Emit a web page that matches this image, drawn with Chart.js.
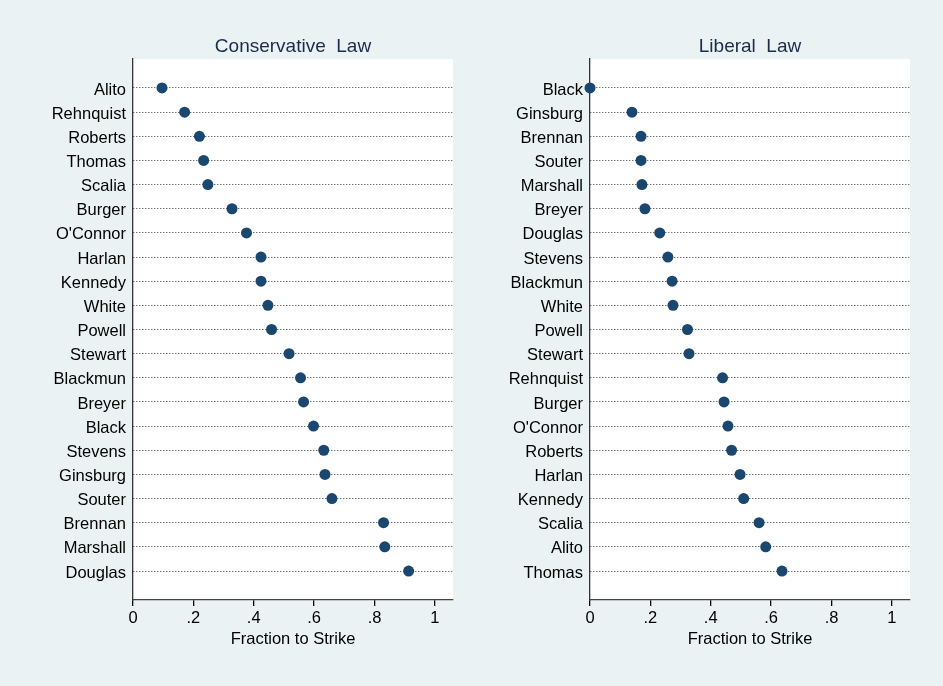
<!DOCTYPE html>
<html>
<head>
<meta charset="utf-8">
<script src="https://cdn.jsdelivr.net/npm/chart.js@4.4.1/dist/chart.umd.min.js"></script>
<style>
  html, body { margin: 0; padding: 0; background: #EAF2F3; width: 943px; height: 686px; overflow: hidden; }
  canvas { position: absolute; top: 0; }
  #c1 { left: 0; }
  #c2 { left: 471px; }
</style>
</head>
<body>
<canvas id="c1" width="471" height="686"></canvas>
<canvas id="c2" width="472" height="686"></canvas>
<script>
// ---- Data ----
const conservativeJustices = ["Alito","Rehnquist","Roberts","Thomas","Scalia","Burger","O'Connor","Harlan","Kennedy","White","Powell","Stewart","Blackmun","Breyer","Black","Stevens","Ginsburg","Souter","Brennan","Marshall","Douglas"];
const conservativeValues = [0.096,0.171,0.220,0.234,0.248,0.328,0.376,0.424,0.424,0.447,0.459,0.517,0.555,0.565,0.598,0.632,0.636,0.659,0.830,0.834,0.913];

const liberalJustices = ["Black","Ginsburg","Brennan","Souter","Marshall","Breyer","Douglas","Stevens","Blackmun","White","Powell","Stewart","Rehnquist","Burger","O'Connor","Roberts","Harlan","Kennedy","Scalia","Alito","Thomas"];
const liberalValues = [0.000,0.139,0.169,0.169,0.172,0.182,0.231,0.258,0.272,0.275,0.323,0.328,0.439,0.444,0.457,0.469,0.497,0.509,0.560,0.582,0.636];

const xTicks = [0, 0.2, 0.4, 0.6, 0.8, 1];
const panelTitles = ["Conservative  Law", "Liberal  Law"];
const xAxisTitle = "Fraction to Strike";

// ---- Rendering ----
const FONT = "'Liberation Sans', Arial, Helvetica, sans-serif";

const plotBg = {
  id: 'plotBg',
  beforeDraw(chart) {
    const a = chart.chartArea, ctx = chart.ctx;
    ctx.save();
    ctx.fillStyle = '#ffffff';
    ctx.fillRect(a.left, a.top, a.right - a.left, a.bottom - a.top);
    ctx.restore();
  }
};

function fmtTick(v) {
  if (v === 0) return '0';
  if (v === 1) return '1';
  return String(Math.round(v * 10) / 10).replace(/^0/, '');
}

function makeChart(id, names, values, title, yWidth, padRight) {
  new Chart(document.getElementById(id), {
    type: 'scatter',
    data: {
      datasets: [{
        data: names.map((n, i) => ({ x: values[i], y: i })),
        backgroundColor: '#1a476f',
        borderColor: '#1a476f',
        borderWidth: 0,
        pointRadius: 5.5,
        pointHoverRadius: 5.5,
        clip: false
      }]
    },
    options: {
      responsive: false,
      animation: false,
      devicePixelRatio: 1,
      layout: { padding: { left: 0, right: padRight, top: 0, bottom: 0 } },
      plugins: {
        legend: { display: false },
        tooltip: { enabled: false },
        title: {
          display: true,
          text: title,
          fullSize: false,
          color: '#1c2a4b',
          font: { family: FONT, size: 19, weight: 'normal', lineHeight: 1.2 },
          padding: { top: 35.6, bottom: 0.6 }
        }
      },
      scales: {
        x: {
          type: 'linear',
          min: 0,
          max: 1.06,
          afterBuildTicks: (s) => { s.ticks = xTicks.map(v => ({ value: v })); },
          afterFit: (s) => { s.height = 86; },
          ticks: {
            callback: (v) => fmtTick(v),
            color: '#000',
            font: { family: FONT, size: 16.5 },
            padding: 3,
            maxRotation: 0,
            autoSkip: false
          },
          grid: {
            display: true,
            drawOnChartArea: false,
            drawTicks: true,
            tickLength: 6,
            tickColor: '#000',
            lineWidth: 1.3
          },
          border: { display: true, color: '#444', width: 1.3 },
          title: {
            display: true,
            text: xAxisTitle,
            color: '#000',
            font: { family: FONT, size: 16.5, lineHeight: 1.2 },
            padding: { top: 0, bottom: 37 }
          }
        },
        y: {
          type: 'linear',
          reverse: true,
          min: -1.2,
          max: names.length - 1 + 1.2,
          afterBuildTicks: (s) => { s.ticks = names.map((n, i) => ({ value: i })); },
          afterFit: (s) => { s.width = yWidth; },
          ticks: {
            callback: (v) => names[v] !== undefined ? names[v] : '',
            color: '#000',
            font: { family: FONT, size: 16.5 },
            padding: 7,
            autoSkip: false,
            labelOffset: 2
          },
          grid: {
            display: true,
            drawOnChartArea: true,
            drawTicks: false,
            color: '#333',
            lineWidth: 1
          },
          border: { display: true, color: '#333', width: 1.3, dash: [1, 2] }
        }
      }
    },
    plugins: [plotBg]
  });
}

makeChart('c1', conservativeJustices, conservativeValues, panelTitles[0], 133, 18);
makeChart('c2', liberalJustices, liberalValues, panelTitles[1], 119, 33);
</script>
</body>
</html>
